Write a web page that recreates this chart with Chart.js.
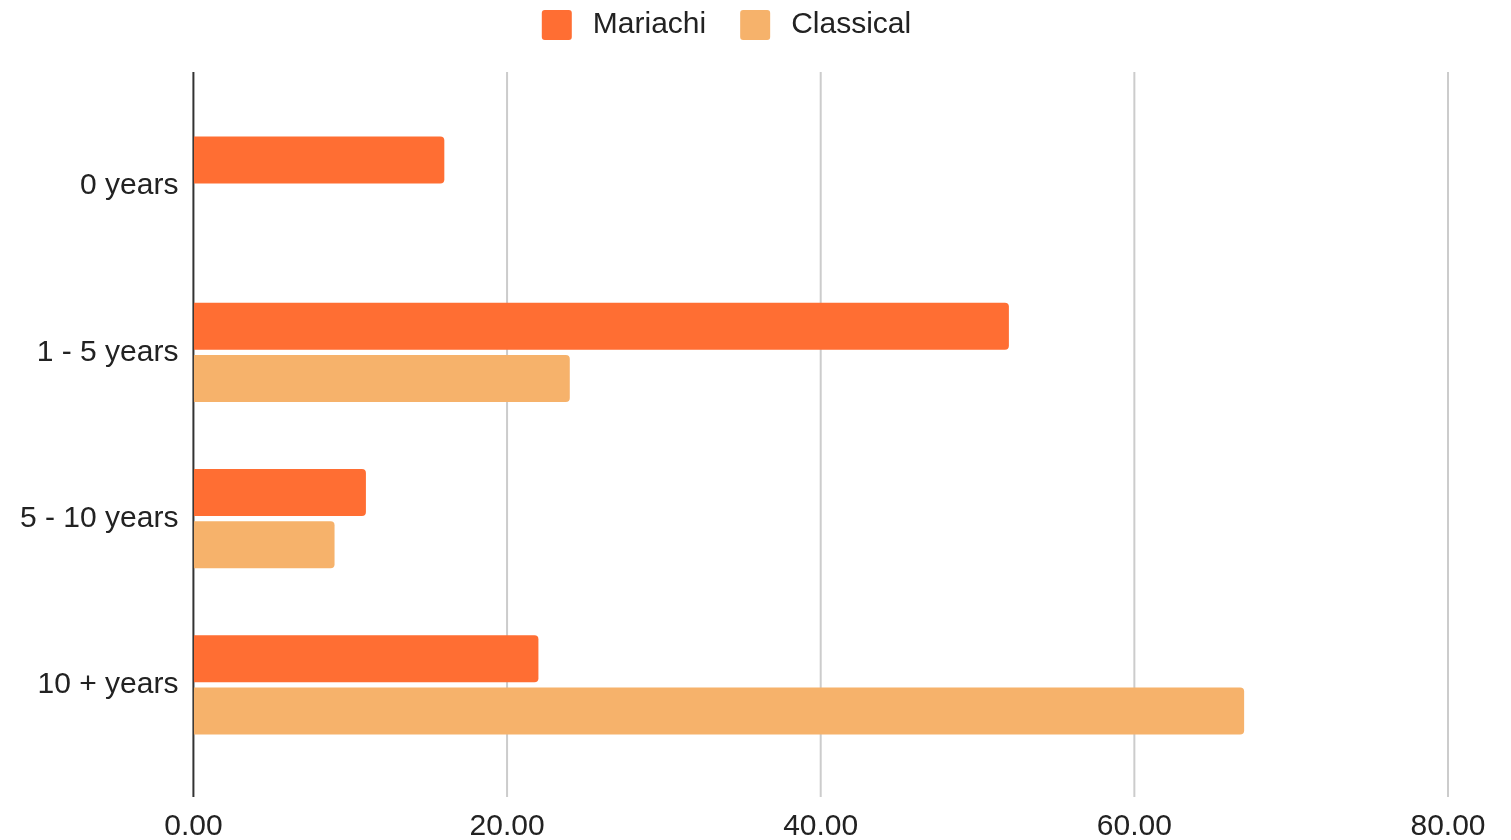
<!DOCTYPE html>
<html>
<head>
<meta charset="utf-8">
<script src="https://cdn.jsdelivr.net/npm/chart.js@4"></script>
<style>
  html, body { margin: 0; padding: 0; background: #fff; }
  #wrap { width: 1511px; height: 840px; }
</style>
</head>
<body>
<div id="wrap"><canvas class="chart-bar"></canvas></div>
<script>
const categories = ["0 years", "1 - 5 years", "5 - 10 years", "10 + years"];
const mariachi = [16, 52, 11, 22];
const classical = [0, 24, 9, 67];
const xTicks = [0, 20, 40, 60, 80];

// extra room under the legend, like the original sheet chart
const legendGap = {
  id: "legendGap",
  beforeInit(chart) {
    const fit = chart.legend.fit;
    chart.legend.fit = function () {
      fit.call(this);
      this.height += 53;
    };
  },
};

// gridlines run past the plot area at top and bottom
const longGrid = {
  id: "longGrid",
  beforeDatasetsDraw(chart) {
    const { ctx, chartArea, scales } = chart;
    const top = chartArea.top - 31;
    const bottom = chartArea.bottom + 29;
    ctx.save();
    ctx.lineWidth = 2;
    scales.x.ticks.forEach(function (t) {
      const x = scales.x.getPixelForValue(t.value);
      ctx.strokeStyle = t.value === 0 ? "#333333" : "#cccccc";
      ctx.beginPath();
      ctx.moveTo(x, top);
      ctx.lineTo(x, bottom);
      ctx.stroke();
    });
    ctx.restore();
  },
};

const chart1 = document.querySelector(".chart-bar");
var ctx = chart1.getContext("2d");
var myChart = new Chart(ctx, {
  type: "bar",
  data: {
    labels: categories,
    datasets: [
      {
        label: "Mariachi",
        data: mariachi,
        backgroundColor: "#ff6e33",
        borderRadius: 4,
        categoryPercentage: 0.627,
        barPercentage: 0.904,
      },
      {
        label: "Classical",
        data: classical,
        backgroundColor: "#f6b26b",
        borderRadius: 4,
        categoryPercentage: 0.627,
        barPercentage: 0.904,
      },
    ],
  },
  options: {
    indexAxis: "y",
    responsive: true,
    maintainAspectRatio: false,
    animation: false,
    layout: {
      padding: { top: -24, left: 5, right: 63, bottom: -17 },
    },
    font: { family: "'Liberation Sans', Arial, sans-serif" },
    plugins: {
      tooltip: { enabled: false },
      legend: {
        position: "top",
        labels: {
          boxWidth: 30,
          boxHeight: 30,
          useBorderRadius: true,
          borderRadius: 3,
          padding: 34,
          color: "#222222",
          font: { family: "'Liberation Sans', Arial, sans-serif", size: 30, lineHeight: 1 },
          // a thin space widens the gap between box and text a little
          generateLabels(chart) {
            const items = Chart.defaults.plugins.legend.labels.generateLabels(chart);
            items.forEach((it) => (it.text = "\u2009" + it.text));
            return items;
          },
        },
      },
    },
    scales: {
      x: {
        min: 0,
        max: 80,
        afterBuildTicks(scale) {
          scale.ticks = xTicks.map((v) => ({ value: v }));
        },
        grid: { display: true, color: "rgba(0,0,0,0)", drawTicks: true, tickLength: 29 },
        border: { display: false },
        ticks: {
          padding: 15,
          color: "#222222",
          font: { family: "'Liberation Sans', Arial, sans-serif", size: 30, lineHeight: 1 },
          callback: (v) => Number(v).toFixed(2),
        },
      },
      y: {
        grid: { display: false, drawTicks: false },
        border: { display: false },
        ticks: {
          padding: 15,
          color: "#222222",
          font: { family: "'Liberation Sans', Arial, sans-serif", size: 30 },
        },
      },
    },
  },
  plugins: [legendGap, longGrid],
});
</script>
</body>
</html>
